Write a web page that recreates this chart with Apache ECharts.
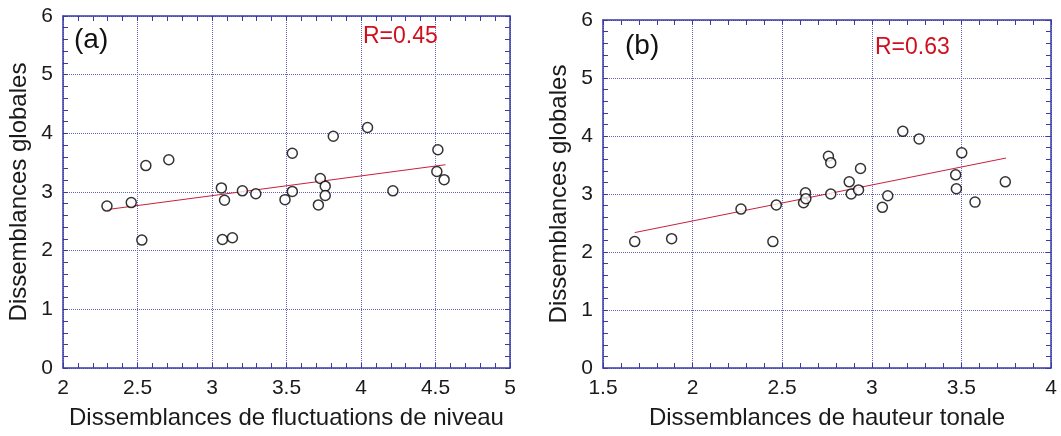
<!DOCTYPE html>
<html>
<head>
<meta charset="utf-8">
<script src="https://cdn.jsdelivr.net/npm/echarts@6/dist/echarts.min.js"></script>
<style>
html,body{margin:0;padding:0;background:#fff;}
#c{width:1061px;height:436px;}
</style>
</head>
<body>
<div id="c"></div>
<script>
// Panel (a): level fluctuation dissimilarities vs global dissimilarities
const levelX = [2.295, 2.458, 2.529, 2.556, 2.710, 3.063, 3.084, 3.070, 3.137, 3.204, 3.294, 3.490, 3.539, 3.539, 3.714, 3.727, 3.760, 3.760, 3.814, 4.044, 4.214, 4.516, 4.509, 4.558];
const levelY = [2.76, 2.82, 2.18, 3.45, 3.55, 3.07, 2.86, 2.19, 2.22, 3.02, 2.97, 2.87, 3.66, 3.01, 2.78, 3.23, 3.10, 2.94, 3.95, 4.10, 3.02, 3.72, 3.35, 3.21];
const fitAX = [2.295, 4.567];
const fitAY = [2.70, 3.465];

// Panel (b): pitch dissimilarities vs global dissimilarities
const pitchX = [1.677, 1.883, 2.270, 2.448, 2.467, 2.619, 2.630, 2.632, 2.758, 2.771, 2.771, 2.874, 2.885, 2.926, 2.937, 3.059, 3.089, 3.173, 3.264, 3.468, 3.472, 3.502, 3.576, 3.745];
const pitchY = [2.18, 2.23, 2.74, 2.18, 2.81, 2.85, 3.02, 2.92, 3.65, 3.54, 3.00, 3.21, 3.00, 3.07, 3.44, 2.77, 2.97, 4.08, 3.95, 3.33, 3.09, 3.71, 2.86, 3.21];
const fitBX = [1.677, 3.749];
const fitBY = [2.335, 3.62];

const yTicks = [0, 1, 2, 3, 4, 5, 6];
const xTicksA = [2, 2.5, 3, 3.5, 4, 4.5, 5];
const xTicksB = [1.5, 2, 2.5, 3, 3.5, 4];

const labelA = '(a)', labelB = '(b)';
const rA = 'R=0.45', rB = 'R=0.63';
const xNameA = 'Dissemblances de fluctuations de niveau';
const xNameB = 'Dissemblances de hauteur tonale';
const yName = 'Dissemblances globales';

const FONT = 'Arial, "Liberation Sans", sans-serif';
const AXIS_COLOR = '#3a3aa6';
const GRID_COLOR = '#6464c0';

function zip(xs, ys) { return xs.map((x, i) => [x, ys[i]]); }

function xAxisMain(gridIndex, ticks, name) {
  return {
    type: 'value', gridIndex, position: 'bottom',
    min: ticks[0], max: ticks[ticks.length - 1], interval: 0.5,
    name, nameLocation: 'middle', nameGap: 38,
    nameTextStyle: { fontFamily: FONT, fontSize: 24, color: '#1a1a1a' },
    axisLine: { show: true, onZero: false, lineStyle: { color: AXIS_COLOR, width: 1.5 } },
    axisTick: { show: true, inside: true, length: 5, lineStyle: { color: AXIS_COLOR } },
    minorTick: { show: true, splitNumber: 5, length: 5, lineStyle: { color: AXIS_COLOR } },
    axisLabel: { fontFamily: FONT, fontSize: 21, color: '#1a1a1a', margin: 10,
      formatter: v => String(v) },
    splitLine: { show: true, lineStyle: { color: GRID_COLOR, type: [1, 1], width: 1 } }
  };
}
function xAxisTop(gridIndex, ticks) {
  return {
    type: 'value', gridIndex, position: 'top',
    min: ticks[0], max: ticks[ticks.length - 1], interval: 0.5,
    axisLine: { show: true, onZero: false, lineStyle: { color: AXIS_COLOR, width: 1.5 } },
    axisTick: { show: true, inside: true, length: 5, lineStyle: { color: AXIS_COLOR } },
    minorTick: { show: true, splitNumber: 5, length: 5, lineStyle: { color: AXIS_COLOR } },
    axisLabel: { show: false }, splitLine: { show: false }
  };
}
function yAxisMain(gridIndex) {
  return {
    type: 'value', gridIndex, position: 'left',
    min: yTicks[0], max: yTicks[yTicks.length - 1], interval: 1,
    name: yName, nameLocation: 'middle', nameGap: 32, nameRotate: 90,
    nameTextStyle: { fontFamily: FONT, fontSize: 24, color: '#1a1a1a' },
    axisLine: { show: true, onZero: false, lineStyle: { color: AXIS_COLOR, width: 1.5 } },
    axisTick: { show: true, inside: true, length: 5, lineStyle: { color: AXIS_COLOR } },
    minorTick: { show: true, splitNumber: 5, length: 5, lineStyle: { color: AXIS_COLOR } },
    axisLabel: { fontFamily: FONT, fontSize: 21, color: '#1a1a1a', margin: 10 },
    splitLine: { show: true, lineStyle: { color: GRID_COLOR, type: [1, 1], width: 1 } }
  };
}
function yAxisRight(gridIndex) {
  return {
    type: 'value', gridIndex, position: 'right',
    min: yTicks[0], max: yTicks[yTicks.length - 1], interval: 1,
    axisLine: { show: true, onZero: false, lineStyle: { color: AXIS_COLOR, width: 1.5 } },
    axisTick: { show: true, inside: true, length: 5, lineStyle: { color: AXIS_COLOR } },
    minorTick: { show: true, splitNumber: 5, length: 5, lineStyle: { color: AXIS_COLOR } },
    axisLabel: { show: false }, splitLine: { show: false }
  };
}

const scatterStyle = {
  type: 'scatter', symbol: 'circle', symbolSize: 10,
  itemStyle: { color: '#ffffff', borderColor: '#000000', borderWidth: 1.5 },
  z: 5, silent: true
};
const fitStyle = {
  type: 'line', symbol: 'none', lineStyle: { color: '#c8203c', width: 1 }, z: 4, silent: true
};

const chart = echarts.init(document.getElementById('c'), null, { renderer: 'canvas' });
chart.setOption({
  backgroundColor: '#ffffff',
  animation: false,
  title: [
    { text: labelA, left: 74, top: 26, padding: 0, textStyle: { fontFamily: FONT, fontSize: 28, fontWeight: 'normal', color: '#111' } },
    { text: rA, left: 363, top: 25, padding: 0, textStyle: { fontFamily: FONT, fontSize: 23, fontWeight: 'normal', color: '#d0101e' } },
    { text: labelB, left: 625, top: 32, padding: 0, textStyle: { fontFamily: FONT, fontSize: 28, fontWeight: 'normal', color: '#111' } },
    { text: rB, left: 875, top: 36, padding: 0, textStyle: { fontFamily: FONT, fontSize: 23, fontWeight: 'normal', color: '#d0101e' } }
  ],
  grid: [
    { left: 63, top: 16, width: 447, height: 352, containLabel: false },
    { left: 603, top: 20, width: 448, height: 348, containLabel: false }
  ],
  xAxis: [xAxisMain(0, xTicksA, xNameA), xAxisTop(0, xTicksA), xAxisMain(1, xTicksB, xNameB), xAxisTop(1, xTicksB)],
  yAxis: [yAxisMain(0), yAxisRight(0), yAxisMain(1), yAxisRight(1)],
  series: [
    Object.assign({}, fitStyle, { xAxisIndex: 0, yAxisIndex: 0, data: zip(fitAX, fitAY) }),
    Object.assign({}, scatterStyle, { xAxisIndex: 0, yAxisIndex: 0, data: zip(levelX, levelY) }),
    Object.assign({}, fitStyle, { xAxisIndex: 2, yAxisIndex: 2, data: zip(fitBX, fitBY) }),
    Object.assign({}, scatterStyle, { xAxisIndex: 2, yAxisIndex: 2, data: zip(pitchX, pitchY) })
  ]
});
</script>
</body>
</html>
